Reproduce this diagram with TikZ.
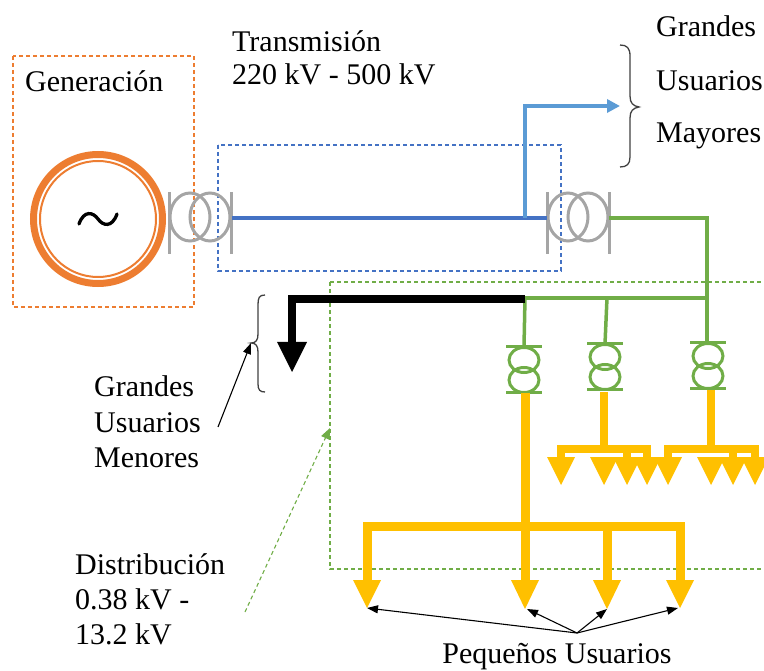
\documentclass[tikz,border=0pt]{standalone}
\usepackage{fontspec}
\setmainfont{Liberation Serif}
\usetikzlibrary{arrows.meta}
\definecolor{gorange}{HTML}{ED7D31}
\definecolor{tblue}{HTML}{4472C4}
\definecolor{lblue}{HTML}{5B9BD5}
\definecolor{dgreen}{HTML}{70AD47}
\definecolor{uyellow}{HTML}{FFC000}
\definecolor{tgray}{HTML}{A5A5A5}
\definecolor{bracegray}{HTML}{404040}
\tikzset{
  lbl/.style={font=\fontsize{30}{36}\selectfont, inner sep=0pt, anchor=base west},
  zonebox/.style={dash pattern=on 4pt off 3pt, line width=1.1pt},
  grtr/.pic={
    \draw[tgray, line width=3pt] (-10,-1) ellipse[x radius=20, y radius=24];
    \draw[tgray, line width=3pt] (10,-1) ellipse[x radius=20, y radius=24];
    \draw[tgray, line width=3pt] (-31,-26) -- (-31,36);
    \draw[tgray, line width=3pt] (31,-26) -- (31,36);
  },
  gntr/.pic={
    \draw[dgreen, line width=3pt] (0,-10) ellipse[x radius=15, y radius=12.5];
    \draw[dgreen, line width=3pt] (0,10) ellipse[x radius=15, y radius=12.5];
    \draw[dgreen, line width=3pt] (-18,-23) -- (18,-23);
    \draw[dgreen, line width=3pt] (-18,23) -- (18,23);
  },
  yline/.style={uyellow, line width=9pt},
  ysmall/.style={uyellow, line width=8pt},
  thinarrow/.style={black, line width=1.1pt, -{Triangle[length=11pt,width=8pt]}},
}
\newcommand{\yarrowhead}[3]{% x, top y, tip y
  \fill[uyellow] (#1-14,#2) -- (#1+14,#2) -- (#1,#3) -- cycle;}
\begin{document}
\begin{tikzpicture}[x=1pt,y=-1pt]
\useasboundingbox (0,0) rectangle (764,671);
% ---- zone boxes
\draw[zonebox, gorange] (13,56) rectangle (194,307);
\draw[zonebox, tblue] (218,145) rectangle (561,271);
\draw[zonebox, dgreen] (330,282) -- (770,282);
\draw[zonebox, dgreen] (330,282) -- (330,569) -- (770,569);
% ---- generator
\node (gen) [circle, draw=gorange, line width=7pt, minimum size=129pt, inner sep=0pt] at (98,219) {};
\draw[gorange, line width=2pt] (gen.center) circle[radius=58];
\coordinate (tl) at (79,224);
\coordinate (tr) at (117,214);
\draw[black, line width=3.3pt, line cap=round] (tl) .. controls (84,210) and (93,212) .. (98,219) .. controls (103,226) and (112,228) .. (tr);
% ---- transformers (gray)
\pic at (200,218) {grtr};
\pic at (578,218) {grtr};
\coordinate (t1r) at (232,218);
\coordinate (t2l) at (547,218);
\coordinate (t2r) at (609,218);
\coordinate (tap) at (525,218);
\coordinate (bup) at (525,106);
\coordinate (bend) at (620,106);
\draw[tblue, line width=4pt] (t1r) -- (t2l);
\draw[lblue, line width=4pt, -{Triangle[length=13pt,width=13pt]}] (tap) -- (bup) -- (bend);
% ---- green network
\coordinate (gcorner) at (707,218);
\coordinate (gbus) at (707,298);
\coordinate (gl) at (525,298);
\coordinate (gm) at (607,298);
\draw[dgreen, line width=3.5pt] (t2r) -- (gcorner) -- (707,342);
\draw[dgreen, line width=3.5pt] (gl) -- (gbus);
\draw[dgreen, line width=3.5pt] (gl) -- (524,347);
\draw[dgreen, line width=3.5pt] (gm) -- (605,344);
\pic at (524,370) {gntr};
\pic at (605,367) {gntr};
\pic at (708,366) {gntr};
% ---- black branch (grandes usuarios menores)
\coordinate (bk1) at (525,299);
\coordinate (bk2) at (292,299);
\draw[black, line width=8pt] (bk1) -- (bk2) -- (292,343);
\fill[black] (277,342) -- (307,342) -- (292,372) -- cycle;
% ---- yellow distribution, big group
\draw[yline] (525,393) -- (525,581);
\draw[yline] (367,581) -- (367,526) -- (680,526) -- (680,581);
\draw[yline] (607,526) -- (607,581);
\yarrowhead{367}{580}{608}
\yarrowhead{525}{580}{609}
\yarrowhead{607}{580}{609}
\yarrowhead{680}{580}{608}
% ---- yellow small group 2
\draw[ysmall] (604,392) -- (604,450);
\draw[ysmall] (561,458) -- (561,449) -- (647,449) -- (647,458);
\draw[ysmall] (627,449) -- (627,458);
\yarrowhead{561}{457}{485}
\yarrowhead{604}{457}{485}
\yarrowhead{627}{457}{485}
\yarrowhead{647}{457}{485}
% ---- yellow small group 3
\draw[ysmall] (711,390) -- (711,450);
\draw[ysmall] (668,458) -- (668,449) -- (755,449) -- (755,458);
\draw[ysmall] (733,449) -- (733,458);
\yarrowhead{668}{457}{485}
\yarrowhead{711}{457}{485}
\yarrowhead{733}{457}{485}
\yarrowhead{755}{457}{485}
% ---- braces
\draw[bracegray, line width=1.3pt] (265,295) .. controls (259,295) and (258,298) .. (258,305) -- (258,334) .. controls (258,340) and (256,343) .. (251,343) .. controls (256,343) and (258,346) .. (258,352) -- (258,384) .. controls (258,390) and (260,392) .. (265,392);
\draw[bracegray, line width=1.3pt] (620,45) .. controls (627,45) and (630,48) .. (630,56) -- (630,96) .. controls (630,103) and (633,106) .. (639,107) .. controls (633,108) and (630,111) .. (630,118) -- (630,157) .. controls (630,164) and (627,167) .. (620,167);
% ---- labels
\node[lbl] (lgen) at (25,92) {Generación};
\node[lbl] (ltr1) at (232,52) {Transmisión};
\node[lbl] (ltr2) at (232,85) {220 kV - 500 kV};
\node[lbl] (lgm1) at (656,37) {Grandes};
\node[lbl] (lgm2) at (656,91) {Usuarios};
\node[lbl] (lgm3) at (656,143) {Mayores};
\node[lbl] (lgn1) at (94,397) {Grandes};
\node[lbl] (lgn2) at (94,432) {Usuarios};
\node[lbl] (lgn3) at (94,467) {Menores};
\node[lbl] (ld1) at (75,574) {Distribución};
\node[lbl] (ld2) at (75,609) {0.38 kV -};
\node[lbl] (ld3) at (75,644) {13.2 kV};
\node[lbl, anchor=base] (lpu) at (557,663) {Pequeños Usuarios};
% ---- pointer arrows
\coordinate (menfrom) at (218,427);
\coordinate (mento) at (251,343);
\draw[thinarrow] (menfrom) -- (mento);
\coordinate (dfrom) at (245,612);
\coordinate (dto) at (330,428);
\draw[dgreen, line width=1.1pt, dash pattern=on 4pt off 3pt, -{Triangle[length=11pt,width=9pt]}] (dfrom) -- (dto);
\coordinate (pu) at (577,633);
\draw[thinarrow] (pu) -- (367,608);
\draw[thinarrow] (pu) -- (527,609);
\draw[thinarrow] (pu) -- (607,609);
\draw[thinarrow] (pu) -- (678,608);
\end{tikzpicture}
\end{document}
